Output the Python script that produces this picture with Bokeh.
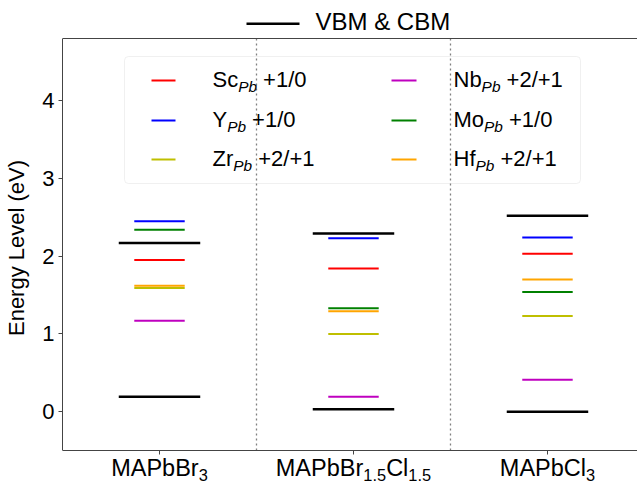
from bokeh.plotting import figure
from bokeh.models import (Range1d, Label, BoxAnnotation, Span, FixedTicker,
                          ColumnDataSource)
from bokeh.embed import file_html
from bokeh.resources import INLINE

# ---------------- data ----------------
materials = ["MAPbBr3", "MAPbBr1.5Cl1.5", "MAPbCl3"]
material_pieces = [
    [("MAPbBr", False), ("3", True)],
    [("MAPbBr", False), ("1.5", True), ("Cl", False), ("1.5", True)],
    [("MAPbCl", False), ("3", True)],
]
vbm = [0.19, 0.03, 0.00]
cbm = [2.17, 2.29, 2.52]

dopants = ["Sc", "Y", "Zr", "Nb", "Mo", "Hf"]
transitions = ["+1/0", "+1/0", "+2/+1", "+2/+1", "+1/0", "+2/+1"]
dopant_colors = ["#ff0000", "#0000ff", "#bfbf00", "#bf00bf", "#008000", "#ffa500"]
sc_levels = [1.95, 1.84, 2.03]
y_levels = [2.45, 2.23, 2.24]
zr_levels = [1.59, 1.00, 1.23]
nb_levels = [1.17, 0.19, 0.41]
mo_levels = [2.34, 1.33, 1.54]
hf_levels = [1.62, 1.29, 1.70]
dopant_levels = [sc_levels, y_levels, zr_levels, nb_levels, mo_levels, hf_levels]

y_ticks = [0, 1, 2, 3, 4]
y_min, y_max = -0.5, 4.8

# ---------------- layout ----------------
W, H = 637, 485
FL, FR = 62, 637            # frame left / right (px)
FT, FBOT = 10, 485          # frame top / bottom (px)
AX_TOP, AX_BOT = 38, 450    # visible top border and x-axis line (px)
PX_PER_Y = (AX_BOT - AX_TOP) / (y_max - y_min)
X0, X1 = -0.5, 2.464
Y0 = y_min - (FBOT - AX_BOT) / PX_PER_Y
Y1 = y_max + (AX_TOP - FT) / PX_PER_Y
FONT = "Liberation Sans"
AXIS_COLOR = "#444444"

def px2x(px):
    return X0 + (px - FL) / (FR - FL) * (X1 - X0)

def py2y(py):
    return y_max - (py - AX_TOP) / PX_PER_Y

def x2px(x):
    return FL + (x - X0) / (X1 - X0) * (FR - FL)

ADV = {'S': 667, 'c': 500, 'Y': 667, 'Z': 611, 'r': 333, 'N': 722, 'b': 556,
       'M': 833, 'o': 556, 'H': 722, 'f': 278, 'P': 667, ' ': 278, '+': 584,
       '1': 556, '/': 278, '0': 556, '2': 556, 'A': 667, 'B': 667, 'C': 722,
       'l': 222, '3': 556, '.': 278, 'V': 667, '&': 667}

def tw(s, size):
    return sum(ADV.get(ch, 556) for ch in s) * size / 1000.0

p = figure(width=W, height=H, output_backend="svg", toolbar_location=None,
           x_range=Range1d(X0, X1), y_range=Range1d(Y0, Y1),
           x_axis_location="above",
           min_border_left=FL, min_border_right=0, min_border_top=FT,
           min_border_bottom=0)
p.outline_line_color = None
p.grid.visible = False
p.background_fill_color = "white"
p.border_fill_color = "white"

def add_text(text, x_px, baseline_px, fs, italic=False):
    mid = baseline_px - 0.35 * fs
    p.add_layout(Label(x=px2x(x_px), y=py2y(mid), text=text,
                       text_font=FONT, text_font_size=f"{fs:.1f}px",
                       text_font_style="italic" if italic else "normal",
                       text_baseline="middle", text_align="left",
                       text_color="black"))

def add_rich(pieces, x_px, baseline_px, size, center=False, italic_sub=False):
    """pieces: list of (text, is_subscript, gap_before_px)."""
    widths = [tw(t, size * 0.7 if s else size) + g for t, s, g in pieces]
    cur = x_px - sum(widths) / 2 if center else x_px
    for text, sub, gap in pieces:
        cur += gap
        fs = size * 0.7 if sub else size
        base = baseline_px + (0.2 * size if sub else 0)
        add_text(text, cur, base, fs, italic=(sub and italic_sub))
        cur += tw(text, fs)

# top border
p.add_layout(Span(location=y_max, dimension="width", line_color=AXIS_COLOR, line_width=1))

# separators between materials
n = len(materials)
sep_x = [i + 0.5 for i in range(n - 1)]
p.segment(x0=sep_x, x1=sep_x, y0=[y_min] * len(sep_x), y1=[y_max] * len(sep_x),
          line_color="#808080", line_width=1.3, line_dash="2 3")

# VBM & CBM
bx = list(range(n)) + list(range(n))
by = vbm + cbm
src_b = ColumnDataSource(dict(x0=[v - 0.21 for v in bx], x1=[v + 0.21 for v in bx], y=by))
p.segment(x0="x0", x1="x1", y0="y", y1="y", source=src_b,
          line_color="black", line_width=2.5)

# dopant levels
for lev, col in zip(dopant_levels, dopant_colors):
    src = ColumnDataSource(dict(x0=[i - 0.13 for i in range(n)],
                                x1=[i + 0.13 for i in range(n)], y=lev))
    p.segment(x0="x0", x1="x1", y0="y", y1="y", source=src,
              line_color=col, line_width=2)

# x axis (placed at y_min inside the frame)
xa = p.xaxis[0]
xa.fixed_location = y_min
xa.ticker = FixedTicker(ticks=list(range(n)))
xa.major_label_text_font_size = "1px"
xa.major_label_text_color = None
xa.major_label_standoff = 0
xa.major_tick_in = 4
xa.major_tick_out = 0
xa.minor_tick_line_color = None
xa.axis_line_color = AXIS_COLOR
xa.major_tick_line_color = AXIS_COLOR

# x tick labels with true subscripts
for i, pieces in enumerate(material_pieces):
    add_rich([(t, s, 0) for t, s in pieces], x2px(i), 476, 23.5, center=True)

# y axis
ya = p.yaxis[0]
ya.ticker = FixedTicker(ticks=y_ticks)
ya.bounds = (y_min, y_max)
ya.major_label_text_font = FONT
ya.major_label_text_font_size = "22px"
ya.major_label_text_color = "black"
ya.major_tick_in = 0
ya.major_tick_out = 4
ya.major_label_standoff = 4
ya.minor_tick_line_color = None
ya.axis_line_color = AXIS_COLOR
ya.major_tick_line_color = AXIS_COLOR
ya.axis_label = "Energy Level (eV)"
ya.axis_label_text_font = FONT
ya.axis_label_text_font_size = "22px"
ya.axis_label_text_font_style = "normal"
ya.axis_label_text_color = "black"
ya.axis_label_standoff = 10

# top legend: VBM & CBM
p.segment(x0=[px2x(246)], x1=[px2x(299)], y0=[py2y(23.3)], y1=[py2y(23.3)],
          line_color="black", line_width=2.5)
add_text("VBM & CBM", 315, 29.3, 24)

# inner legend
p.add_layout(BoxAnnotation(left=px2x(124), right=px2x(580), top=py2y(56), bottom=py2y(183),
                           fill_color="white", fill_alpha=0.85, line_color="#cccccc",
                           line_width=1, border_radius=4, level="underlay"))
col_line_x = [(151, 175), (391, 416)]
col_text_x = [212, 453]
row_y = [80, 120, 159]
for k, (d, t, col) in enumerate(zip(dopants, transitions, dopant_colors)):
    c, r = divmod(k, 3)
    ly = py2y(row_y[r])
    p.segment(x0=[px2x(col_line_x[c][0])], x1=[px2x(col_line_x[c][1])], y0=[ly], y1=[ly],
              line_color=col, line_width=2)
    add_rich([(d, False, 0), ("Pb", True, 0), (t, False, tw(" ", 22))],
             col_text_x[c], row_y[r] + 6.7, 22, italic_sub=True)

open("out.html", "w").write(file_html(p, INLINE))
